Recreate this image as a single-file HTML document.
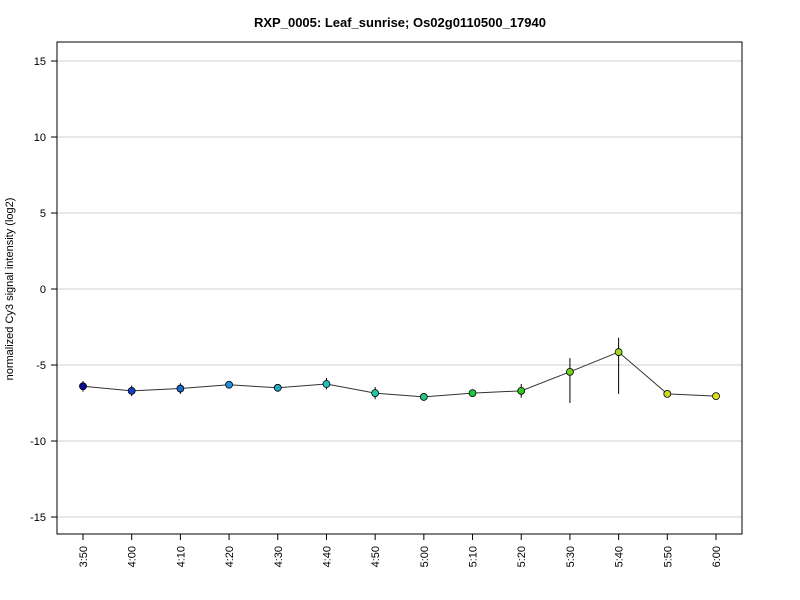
<!DOCTYPE html>
<html><head><meta charset="utf-8"><style>
html,body{margin:0;padding:0;background:#fff;}
svg{display:block;font-family:"Liberation Sans",Arial,sans-serif;}
</style></head><body>
<svg id="chart" width="800" height="600" viewBox="0 0 800 600">
<text x="400" y="27" text-anchor="middle" font-size="13" font-weight="bold">RXP_0005: Leaf_sunrise; Os02g0110500_17940</text>
<text transform="translate(13,289) rotate(-90)" text-anchor="middle" font-size="11">normalized Cy3 signal intensity (log2)</text>
<g id="grid"></g>
<g id="yaxis"></g>
<g id="xaxis"></g>
<g id="series"></g>
<rect x="57" y="42" width="685" height="492" fill="none" stroke="#000" stroke-width="1"/>
</svg>
<script>
const categories = ["3:50","4:00","4:10","4:20","4:30","4:40","4:50","5:00","5:10","5:20","5:30","5:40","5:50","6:00"];
const values = [-6.4,-6.7,-6.55,-6.3,-6.5,-6.25,-6.85,-7.1,-6.85,-6.7,-5.45,-4.15,-6.9,-7.05];
const errLow = [-6.75,-7.05,-6.9,-6.45,-6.75,-6.6,-7.25,-7.2,-7.05,-7.15,-7.5,-6.9,-7.0,-7.15];
const errHigh = [-6.05,-6.35,-6.2,-6.15,-6.25,-5.85,-6.45,-7.0,-6.65,-6.25,-4.55,-3.2,-6.8,-6.95];
const colors = ["#0a0a90","#1040c8","#1868d0","#2090d8","#20a8c0","#20c0c0","#20c8a0","#20c880","#20c840","#30c820","#70d020","#a0d820","#c8d820","#e0e020"];
const yTicks = [-15,-10,-5,0,5,10,15];

const NS="http://www.w3.org/2000/svg";
function mk(tag,attrs,parent){const e=document.createElementNS(NS,tag);for(const k in attrs)e.setAttribute(k,attrs[k]);parent.appendChild(e);return e;}
const y=v=>289-v*15.2;
const x=i=>83+i*(716-83)/(categories.length-1);
const grid=document.getElementById('grid'),ya=document.getElementById('yaxis'),xa=document.getElementById('xaxis'),ser=document.getElementById('series');
yTicks.forEach(t=>{
  const g=mk('line',{x1:57,x2:742,y1:y(t),y2:y(t),stroke:'#d0d0d0','stroke-width':1},grid);
  
  
  const tk=mk('line',{x1:51,x2:57,y1:y(t),y2:y(t),stroke:'#000'},ya);
  
  
  const tx=mk('text',{x:46,y:y(t)+4,'text-anchor':'end','font-size':11},ya);
  tx.textContent=t;
  
  
});
mk('line',{x1:x(0),x2:x(categories.length-1),y1:534,y2:534,stroke:'#000'},xa);
categories.forEach((c,i)=>{
  const tk=mk('line',{x1:x(i),x2:x(i),y1:534,y2:540,stroke:'#000'},xa);
  
  
  const tx=mk('text',{transform:`translate(${x(i)+4},546) rotate(-90)`,'text-anchor':'end','font-size':11},xa);
  tx.textContent=c;
  
  
});
const pl=mk('polyline',{points:values.map((v,i)=>x(i)+','+y(v)).join(' '),fill:'none',stroke:'#333','stroke-width':1},ser);


values.forEach((v,i)=>{
  const eb=mk('line',{x1:x(i),x2:x(i),y1:y(errLow[i]),y2:y(errHigh[i]),stroke:'#000','stroke-width':1},ser);
  
  
  const p=mk('circle',{cx:x(i),cy:y(v),r:3.5,fill:colors[i],stroke:'#000','stroke-width':0.8},ser);
  
  
});
</script>
</body></html>
